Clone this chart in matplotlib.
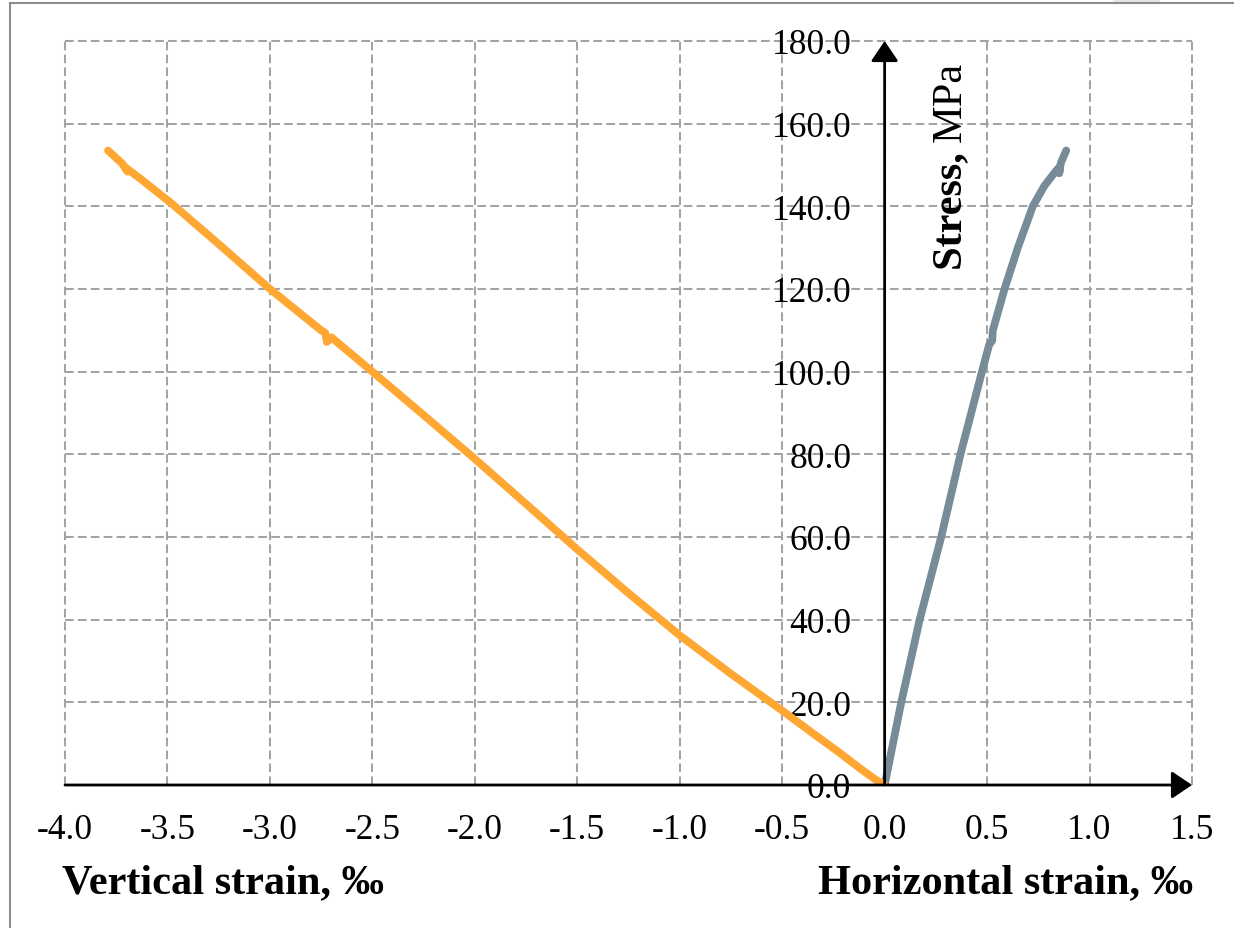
import matplotlib
matplotlib.use("Agg")
import matplotlib.pyplot as plt
from matplotlib.lines import Line2D
from matplotlib.patches import Rectangle
from matplotlib.ticker import FixedLocator, FuncFormatter

plt.rcParams['font.family'] = ['Liberation Serif', 'DejaVu Serif']
plt.rcParams['axes.unicode_minus'] = False

# vertical strain (negative side) vs stress
vert_strain = [0.0, -0.05, -0.12, -0.22, -0.35, -0.5, -0.75, -1.0, -1.25, -1.5,
               -1.75, -2.0, -2.25, -2.5, -2.70, -2.722, -2.73, -2.75, -3.0,
               -3.26, -3.48, -3.63, -3.70, -3.695, -3.72, -3.79]
vert_stress = [0.0, 1.5, 4.0, 7.8, 12.5, 18.0, 26.9, 36.2, 46.4, 57.0,
               68.0, 78.9, 89.5, 100.0, 108.3, 107.2, 109.4, 110.0, 120.0,
               131.3, 140.7, 146.6, 149.2, 148.4, 150.3, 153.5]

# horizontal strain vs stress
hor_strain = [0.0, 0.081, 0.171, 0.276, 0.370, 0.475, 0.51, 0.525, 0.528,
              0.585, 0.65, 0.723, 0.78, 0.835, 0.855, 0.852, 0.86, 0.886]
hor_stress = [0.0, 20.0, 40.0, 60.0, 80.0, 100.0, 106.5, 107.5, 110.0,
              120.0, 130.0, 140.0, 145.0, 148.5, 149.6, 148.0, 150.5, 153.5]

x_ticks = [-4.0, -3.5, -3.0, -2.5, -2.0, -1.5, -1.0, -0.5, 0.0, 0.5, 1.0, 1.5]
y_ticks = [0, 20, 40, 60, 80, 100, 120, 140, 160, 180]

W, H = 1234, 929
fig = plt.figure(figsize=(W / 100, H / 100), dpi=100)
ax = fig.add_axes([65 / W, 1 - 786 / H, (1192 - 65) / W, (786 - 42) / H])
ax.set_xlim(-4.0, 1.5)
ax.set_ylim(0, 180)

for s in ax.spines.values():
    s.set_color('none')
ax.spines['left'].set_position(('data', 0))

ax.xaxis.set_major_locator(FixedLocator(x_ticks))
ax.yaxis.set_major_locator(FixedLocator(y_ticks))
fmt = FuncFormatter(lambda v, p: f"{v:.1f}")
ax.xaxis.set_major_formatter(fmt)
ax.yaxis.set_major_formatter(fmt)
ax.tick_params(axis='both', length=0, labelsize=25.5, colors='black')
ax.tick_params(axis='x', pad=20.5)
ax.tick_params(axis='y', pad=24)

ax.grid(True, color='#a3a3a3', linestyle=(0, (4.3, 2.1)), linewidth=1.45)
for gl in ax.get_xgridlines() + ax.get_ygridlines():
    gl.set_clip_on(False)
ax.set_axisbelow(True)

ax.plot(hor_strain, hor_stress, color='#778c98', lw=5.6,
        solid_capstyle='round', solid_joinstyle='round', zorder=3)
ax.plot(vert_strain, vert_stress, color='#ffa733', lw=5.6,
        solid_capstyle='round', solid_joinstyle='round', zorder=3)

arrow = dict(arrowstyle='-|>,head_length=0.62,head_width=0.42', lw=2.0,
             color='black', mutation_scale=20, shrinkA=0, shrinkB=0)
ax.annotate('', xy=(1.5, 0), xytext=(-4.0, 0), arrowprops=arrow,
            annotation_clip=False, zorder=4)
ax.annotate('', xy=(0, 180), xytext=(0, 0), arrowprops=arrow,
            annotation_clip=False, zorder=4)

# axis titles
fig.text(62 / W, 1 - 893 / H, 'Vertical strain, \u2030', fontsize=30.5,
         fontweight='bold', ha='left', va='baseline')
fig.text(1193 / W, 1 - 893 / H, 'Horizontal strain, \u2030', fontsize=30.5,
         fontweight='bold', ha='right', va='baseline')

t1 = fig.text(961 / W, 1 - 270 / H, 'Stress, ', fontsize=30.5, fontweight='bold',
              rotation=90, rotation_mode='anchor', ha='left', va='baseline')
fig.canvas.draw()
bb = t1.get_window_extent()
fig.text(961 / W, bb.y1 / H, 'MPa', fontsize=30.5, rotation=90,
         rotation_mode='anchor', ha='left', va='baseline')

# outer frame of the screenshot
fig.add_artist(Line2D([10 / W, 10 / W], [0, 1 - 4 / H], color='#8c8c8c', lw=1.5))
fig.add_artist(Line2D([10 / W, 1], [1 - 4 / H, 1 - 4 / H], color='#8c8c8c', lw=1.5))
fig.add_artist(Rectangle((1113 / W, 1 - 3 / H), 47 / W, 3 / H, color='#e6e6e6', lw=0))

fig.savefig('out.png', dpi=100)
